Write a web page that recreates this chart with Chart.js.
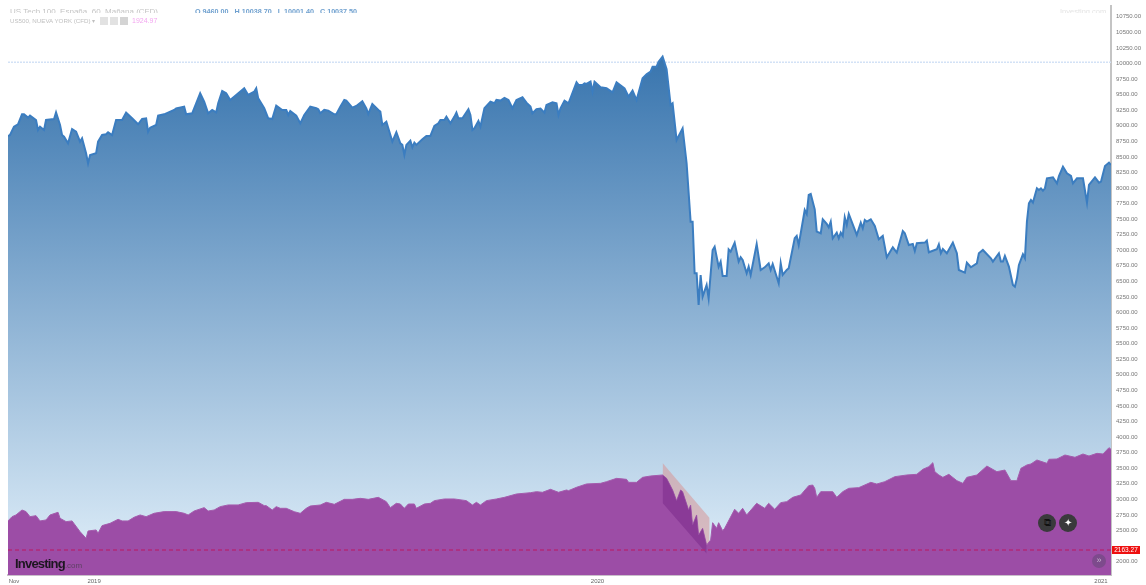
<!DOCTYPE html>
<html>
<head>
<meta charset="utf-8">
<title>US Tech 100 / US500</title>
<script src="https://cdn.jsdelivr.net/npm/chart.js@4"></script>
<style>
  html, body { margin: 0; padding: 0; background: #fff; }
  #wrap { position: relative; width: 1146px; height: 585px; overflow: hidden; font-family: "Liberation Sans", Arial, sans-serif; filter: blur(0.35px); }
  canvas { display: block; }
  .abs { position: absolute; white-space: nowrap; }
  .cut { position: absolute; overflow: hidden; white-space: nowrap; font-size: 7.5px; line-height: 8px; height: 5px; top: 8px; }
  .cut span { position: relative; top: -2px; }
  .box { position: absolute; top: 17px; width: 8px; height: 8px; background: #e2e2e2; }
  .round { position: absolute; border-radius: 50%; text-align: center; color: #fff; }
</style>
</head>
<body>
<div id="wrap">
  <canvas id="chart" width="1146" height="585"></canvas>

  <div class="cut" style="left:10px;font-size:8px;color:#c4c4c4">US Tech 100, España, 60, Mañana (CFD)</div>
  <div class="cut" style="left:195px;font-size:7.2px;color:#6fa0cf;font-weight:bold">O 9460.00 &nbsp; H 10038.70 &nbsp; L 10001.40 &nbsp; C 10037.50</div>
  <div class="cut" style="left:1060px;color:#e4e4e4">Investing.com</div>
  <div class="abs" style="left:10px;top:17px;font-size:6.2px;line-height:8px;color:#c0c0c0">US500, NUEVA YORK (CFD) &#9662;</div>
  <div class="box" style="left:100px"></div>
  <div class="box" style="left:110px"></div>
  <div class="box" style="left:120px;background:#d4d4d4"></div>
  <div class="abs" style="left:132px;top:17px;font-size:7px;line-height:8px;color:#f3a6f0">1924.97</div>

  <div class="abs" style="left:15px;top:556px;font-size:13px;line-height:15px;font-weight:bold;letter-spacing:-0.8px;color:#1d1620">Investing<span style="font-size:8px;font-weight:normal;letter-spacing:0;color:#5e4064">.com</span></div>

  <div class="round" style="left:1038px;top:514px;width:18px;height:18px;line-height:18px;font-size:10px;background:#3a3a3c;color:#111">&#10697;</div>
  <div class="round" style="left:1059px;top:514px;width:18px;height:18px;line-height:18px;font-size:10px;background:#3a3a3c">&#10022;</div>
  <div class="round" style="left:1092px;top:554px;width:14px;height:14px;line-height:13px;font-size:9px;background:#7d4a8c;color:#c9b3cf">&#187;</div>

  <div class="abs" style="left:1112px;top:546px;width:28px;height:8px;line-height:8px;font-size:6.5px;text-align:center;background:#ee1010;color:#fff">2163.27</div>
</div>

<script>
// US Tech 100 closes (x is the session number on the chart)
const techBars = [0,1,3,5,7,8,10,11,14,15,16,18,19,23,24,26,27,28,30,32,34,36,37,39,40,41,44,45,47,49,50,52,54,57,59,62,65,67,69,70,71,74,75,78,83,84,88,89,92,94,96,98,100,102,104,105,107,109,111,114,118,120,123,124,125,128,130,132,134,137,139,140,141,144,146,
  148,151,154,155,156,158,160,163,164,166,168,169,172,174,177,179,180,182,185,186,187,189,192,194,196,197,198,199,201,202,203,204,207,209,211,213,215,216,218,219,221,223,224,225,227,230,231,232,233,235,236,238,241,243,244,246,248,250,252,254,257,259,261,262,264,266,268,269,272,274,275,276,278,280,284,285,287,288,289,291,292,293,296,
  299,302,304,308,310,312,314,317,319,321,322,324,325,327,329,331,332,334,337,339,341,342,343,344,345,346,347,349,350,352,353,355,356,357,359,360,361,363,365,366,367,369,370,371,374,376,378,380,381,382,385,386,
  387,389,390,393,394,395,398,399,400,401,403,404,406,407,409,410,411,412,414,415,416,417,418,419,420,424,426,427,428,429,431,433,435,437,439,442,444,447,448,450,452,453,454,458,459,460,464,465,466,467,469,472,474,475,478,479,481,484,485,487,491,492,495,496,497,498,500,502,503,504,505,507,508,509,510,511,512,514,515,516,517,518,519,522,524,525,527,529,531,532,534,537,539,540,543,545,546,548,550,551];
const techClose = [8835,8851,8985,9023,9183,9183,9130,9162,9092,8932,8985,8932,9092,9108,9215,9012,8851,8825,8718,8948,8905,8744,8798,8557,8396,8530,8557,8744,8851,8862,8894,8851,9092,9092,9210,9119,9023,9108,9119,8905,8969,9012,9162,9183,9253,9280,9306,9183,9199,9360,9521,9387,9199,9253,9215,9360,9558,9521,9414,9494,9601,9494,9547,9601,9440,9280,9119,9108,9323,9253,9253,9173,9237,9162,9039,
  9173,9307,9280,9264,9200,9254,9243,9184,9184,9307,9414,9404,9291,9318,9393,9280,9189,9350,9254,9227,9013,9066,8745,8895,8718,8692,8531,8692,8761,8654,8729,8692,8783,8836,8836,8997,9040,9093,9093,9147,9040,9147,9211,9120,9120,9264,9173,8932,8959,9077,8986,9280,9387,9361,9414,9404,9446,9414,9280,9414,9457,9371,9307,9200,9264,9275,9211,9334,9377,9361,9173,9280,9404,9361,9698,9655,9655,9682,9671,9709,9548,9709,9618,
  9601,9537,9697,9601,9467,9563,9413,9761,9826,9868,9949,9949,10029,10109,9906,9333,9360,8771,8958,8396,7460,7460,6630,6630,6121,6603,6255,6442,6228,7005,7058,6737,6817,6587,6587,7015,6978,7122,6817,6887,6844,6630,6737,6603,7101,6683,6726,6790,6683,6780,6469,6791,
  6604,6684,6711,7192,7230,7085,7647,7583,7888,7904,7658,7300,7273,7498,7423,7369,7460,7192,7283,7192,7283,7230,7530,7407,7583,7246,7444,7353,7487,7460,7498,7390,7176,7230,6887,7048,6962,7310,7273,7085,7101,6989,7112,7123,7155,6968,7016,7096,6952,7021,6952,7123,6952,6684,6641,6802,6727,6791,6952,7005,6871,6818,6952,6818,6818,6909,6738,6443,6416,6550,6764,6935,6871,7460,7755,7808,7765,7995,7969,7995,7958,7995,8156,8172,8076,8193,8343,8236,8193,8076,8156,8156,7765,8049,8172,8086,8102,8354,8408,8370];

// US500 closes
const spxBars = [0,2,4,7,9,11,14,16,19,21,25,26,29,32,36,39,40,44,45,47,51,55,57,60,63,66,69,73,78,84,88,90,93,98,100,103,106,110,115,119,125,128,129,132,134,
  136,139,143,146,149,151,156,159,163,168,172,176,180,185,189,191,194,196,198,200,203,204,208,211,213,218,223,229,232,234,236,239,244,248,254,261,264,267,271,275,279,280,284,289,296,
  299,304,309,310,314,317,321,327,329,332,334,336,337,340,341,342,344,345,347,349,351,352,354,355,357,358,363,365,367,369,374,378,380,383,386,
  389,392,396,400,402,403,404,406,412,414,417,420,425,431,434,438,443,449,454,457,460,462,463,465,467,470,474,477,479,484,489,494,498,501,504,506,509,511,514,519,520,524,528,533,537,540,544,547,550,551];
const spxClose = [2653,2722,2749,2829,2803,2722,2738,2653,2669,2749,2792,2696,2642,2653,2481,2374,2492,2508,2455,2578,2615,2679,2653,2653,2712,2749,2722,2776,2803,2803,2776,2749,2813,2867,2813,2829,2883,2910,2910,2947,2952,2899,2899,2829,2883,
  2856,2856,2802,2775,2856,2893,2909,2952,2920,3000,3000,3016,3000,3032,2963,2867,2936,2925,2856,2925,2925,2856,2925,2936,2979,3006,3006,2979,2909,2952,2909,2979,3006,3032,3086,3107,3123,3113,3161,3113,3150,3140,3193,3247,3257,
  3284,3337,3321,3273,3273,3353,3375,3391,3337,3150,2979,3150,3123,2829,2909,2588,2749,2427,2535,2267,2347,2625,2535,2625,2497,2535,2840,2775,2856,2749,2936,2856,2936,2840,2947,
  2963,3032,3070,3220,3230,3177,3032,3123,3123,3032,3123,3177,3188,3273,3246,3284,3364,3391,3402,3482,3525,3589,3444,3391,3353,3402,3300,3257,3353,3391,3535,3444,3471,3300,3300,3498,3552,3568,3632,3578,3643,3648,3712,3675,3728,3696,3739,3728,3830,3803];

// drawn channel over the March drop
const channelBars = [327, 350.5];
const channelUpper = [3584, 2700];
const channelLower = [2942, 2073];

// horizontal price lines
const lineBars = [0, 551];
const techLine = [10020, 10020];
const spxLine = [2185, 2185];

// axes
const yTicks = [10750,10500,10250,10000,9750,9500,9250,9000,8750,8500,8250,8000,7750,7500,7250,7000,6750,6500,6250,6000,5750,5500,5250,5000,4750,4500,4250,4000,3750,3500,3250,3000,2750,2500,2250,2000];
const yTickLabels = ['10750.00','10500.00','10250.00','10000.00','9750.00','9500.00','9250.00','9000.00','8750.00','8500.00','8250.00','8000.00','7750.00','7500.00','7250.00','7000.00','6750.00','6500.00','6250.00','6000.00','5750.00','5500.00','5250.00','5000.00','4750.00','4500.00','4250.00','4000.00','3750.00','3500.00','3250.00','3000.00','2750.00','2500.00','','2000.00'];
const xTickBars = [3,43,65,105,146,189,210,232,253.5,294.5,315,356.5,397.5,418.5,441,482.5,503.5,546];
const xTickLabels = ['Nov','2019','','','','','','','','2020','','','','','','','','2021'];

function points(xs, ys) {
  return xs.map((x, i) => ({ x: x, y: ys[i] }));
}

// US500 inside the channel, for the darker part of it
const spxInChannel = points(spxBars, spxClose).filter(p => p.x >= channelBars[0] && p.x <= channelBars[1]);

function techGradient(ctx) {
  const area = ctx.chart.chartArea;
  if (!area) return '#8eb3d4';
  const g = ctx.chart.ctx.createLinearGradient(0, 50, 0, 575);
  g.addColorStop(0, '#3673ad');
  g.addColorStop(1, '#e2f0fa');
  return g;
}

const noPoints = { pointRadius: 0, pointHoverRadius: 0 };

new Chart(document.getElementById('chart'), {
  type: 'line',
  data: {
    datasets: [
      { // 0
        label: 'US Tech 100',
        data: points(techBars, techClose),
        borderColor: '#3b7dc0',
        borderWidth: 2,
        backgroundColor: techGradient,
        fill: 'start',
        tension: 0,
        order: 6,
        ...noPoints,
      },
      { // 1
        label: 'Channel upper',
        data: points(channelBars, channelUpper),
        borderWidth: 0,
        borderColor: 'rgba(0,0,0,0)',
        backgroundColor: 'rgba(215,150,150,0.55)',
        fill: 2,
        order: 5,
        ...noPoints,
      },
      { // 2
        label: 'Channel lower',
        data: points(channelBars, channelLower),
        borderWidth: 0,
        borderColor: 'rgba(0,0,0,0)',
        fill: false,
        order: 4,
        ...noPoints,
      },
      { // 3
        label: 'US500',
        data: points(spxBars, spxClose),
        borderColor: '#a45cad',
        borderWidth: 1,
        backgroundColor: '#9c4da6',
        fill: 'start',
        tension: 0,
        order: 3,
        ...noPoints,
      },
      { // 4
        label: 'US500 in channel',
        data: spxInChannel,
        borderWidth: 0,
        borderColor: 'rgba(0,0,0,0)',
        backgroundColor: 'rgba(95,15,115,0.3)',
        fill: 2,
        order: 2,
        ...noPoints,
      },
      { // 5
        label: 'US Tech line',
        data: points(lineBars, techLine),
        borderColor: '#d3e2f6',
        borderWidth: 1.5,
        borderDash: [2, 1],
        fill: false,
        order: 7,
        ...noPoints,
      },
      { // 6
        label: 'US500 line',
        data: points(lineBars, spxLine),
        borderColor: '#b02a78',
        borderWidth: 1.5,
        borderDash: [4, 3],
        fill: false,
        order: 0,
        ...noPoints,
      },
    ]
  },
  options: {
    responsive: false,
    animation: false,
    layout: { padding: { left: 8, top: 6, right: 0, bottom: 0 } },
    plugins: { legend: { display: false }, tooltip: { enabled: false } },
    scales: {
      x: {
        type: 'linear',
        min: 0,
        max: 551,
        afterFit: s => { s.height = 10; },
        afterBuildTicks: s => { s.ticks = xTickBars.map(v => ({ value: v })); },
        grid: { display: false, tickLength: 3, tickColor: '#b5b5b5', drawTicks: true },
        border: { color: '#c9bfca', width: 2 },
        ticks: {
          color: '#666',
          font: { family: "'Liberation Sans', Arial", size: 6 },
          padding: 0,
          autoSkip: false,
          maxRotation: 0,
          callback: v => xTickLabels[xTickBars.indexOf(v)],
        },
      },
      y: {
        position: 'right',
        min: 1785,
        max: 10923,
        afterFit: s => { s.width = 35; },
        afterBuildTicks: s => { s.ticks = yTicks.map(v => ({ value: v })); },
        grid: { display: false, tickLength: 3, tickColor: '#b5b5b5', drawTicks: true },
        border: { color: '#c4c4c4', width: 2 },
        ticks: {
          color: '#777',
          font: { family: "'Liberation Sans', Arial", size: 6 },
          padding: 2,
          autoSkip: false,
          callback: v => yTickLabels[yTicks.indexOf(v)],
        },
      },
    },
  },
});
</script>
</body>
</html>
